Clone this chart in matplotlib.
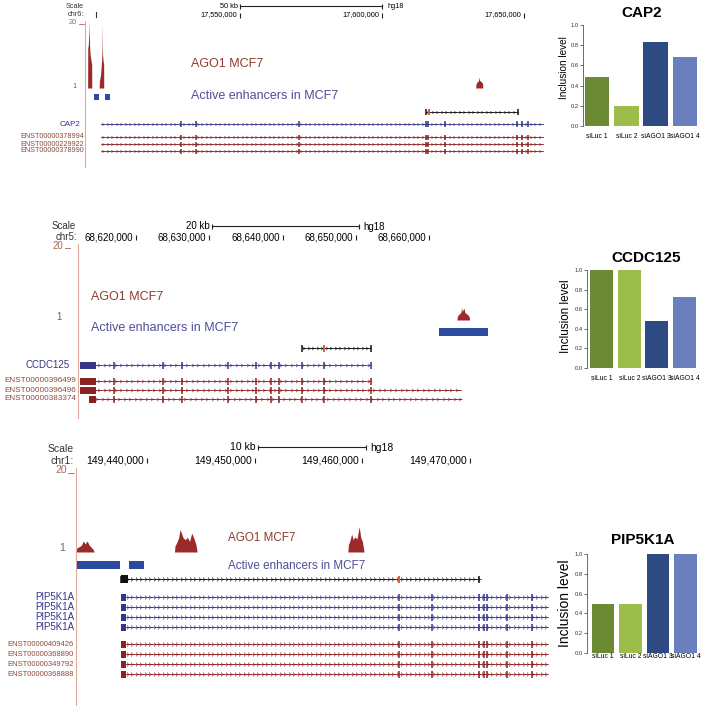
"""
AGO1 binding / enhancer tracks next to inclusion-level barplots (CAP2, CCDC125, PIP5K1A)
"""

import matplotlib
matplotlib.use('Agg')
import matplotlib.pyplot as plt
from matplotlib.patches import Rectangle
import numpy as np

plt.rcParams['font.family'] = ['Liberation Sans', 'DejaVu Sans']

W, H = 712, 706

# ---- barplot data ----
conditions = ['siLuc 1', 'siLuc 2', 'siAGO1 3', 'siAGO1 4']
cap2_inclusion = [0.49, 0.20, 0.83, 0.68]
ccdc125_inclusion = [1.0, 1.0, 0.48, 0.72]
pip5k1a_inclusion = [0.50, 0.50, 1.0, 1.0]
bar_colors = ['#6b8a33', '#9cbd4a', '#2e4a82', '#6a7fbd']
inclusion_ticks = [0.0, 0.2, 0.4, 0.6, 0.8, 1.0]

# ---- CAP2 browser view (chr6, hg18) ----
cap2_view = (17495423, 17657394)
cap2_ticks = [17550000, 17600000, 17650000]
cap2_scalebar = (17550000, 17600000)
cap2_ago1_pos = [17496350, 17496400, 17496600, 17496850, 17496940, 17497030, 17497200, 17497600, 17497780, 17497800,
                 17500400, 17500500, 17500900, 17501250, 17501450, 17501520, 17501600, 17501800, 17502000, 17502020,
                 17633000, 17633100, 17633500, 17634000, 17634200, 17634350, 17634900, 17635400, 17635500]
cap2_ago1_val = [0, 12, 13, 17, 20, 13, 10, 8, 7, 0,
                 0, 2, 4, 8, 12, 19.5, 10, 8, 7, 0,
                 0, 1.2, 1.8, 2.2, 3.3, 2.3, 1.9, 1.4, 0]
cap2_enhancers = [(17498592, 17500352), (17502465, 17504225)]
cap2_bound_region = (17615492, 17647887)
cap2_bound_mark = 17616550
cap2_tx_span = (17501056, 17656690)
cap2_exons = [17529226, 17534507, 17570774, 17615492, 17616196, 17622183, 17647535, 17649295, 17651408]
cap2_ensembl = ['ENST00000378994', 'ENST00000229922', 'ENST00000378990']

# ---- CCDC125 browser view (chr5, hg18) ----
ccdc125_view = (68612082, 68675836)
ccdc125_ticks = [68620000, 68630000, 68640000, 68650000, 68660000]
ccdc125_scalebar = (68630400, 68650400)
ccdc125_ago1_pos = [68663800, 68663870, 68664100, 68664350, 68664450, 68664550, 68664780, 68664900, 68665300,
                    68665500, 68665520]
ccdc125_ago1_val = [0, 1.0, 1.6, 2.0, 3.4, 2.3, 3.2, 2.0, 1.4, 0.8, 0]
ccdc125_enhancers = [(68661366, 68668055)]
ccdc125_bound_region = (68642662, 68652082)
ccdc125_bound_mark = 68645666
ccdc125_tx_span = (68612355, 68652082)
ccdc125_utr = (68612355, 68614539)
ccdc125_exons = [68616997, 68623686, 68626280, 68632560, 68636382, 68638430, 68639522, 68642662, 68645666, 68652082]
ccdc125_ensembl = ['ENST00000396499', 'ENST00000396496', 'ENST00000383374']
ccdc125_ensembl_spans = [(68612355, 68652082), (68612355, 68664369), (68613584, 68664369)]

# ---- PIP5K1A browser view (chr1, hg18) ----
pip5k1a_view = (149433408, 149477419)
pip5k1a_ticks = [149440000, 149450000, 149460000, 149470000]
pip5k1a_scalebar = (149450300, 149460300)
pip5k1a_ago1_pos = [149433450, 149433480, 149433700, 149433900, 149434080, 149434250, 149434450, 149434600,
                    149434800, 149435000, 149435100,
                    149442550, 149442600, 149442800, 149442950, 149443060, 149443200, 149443350, 149443550,
                    149443750, 149443950, 149444150, 149444350, 149444550, 149444650,
                    149458650, 149458700, 149458850, 149459000, 149459150, 149459300, 149459500, 149459700,
                    149459850, 149460000, 149460150]
pip5k1a_ago1_val = [0, 1.0, 1.3, 1.6, 2.7, 2.0, 2.7, 1.8, 1.2, 0.6, 0,
                    0, 1.5, 2.5, 3.6, 5.5, 4.6, 3.5, 3.0, 3.6, 2.6, 4.6, 3.4, 1.8, 0,
                    0, 1.8, 2.8, 4.4, 3.0, 3.7, 3.2, 6.2, 3.5, 2.6, 0]
pip5k1a_enhancers = [(149433500, 149437493), (149438329, 149439721)]
pip5k1a_bound_region = (149437586, 149470826)
pip5k1a_bound_mark = 149463398
pip5k1a_tx_span = (149437586, 149477140)
pip5k1a_utr = (149437586, 149438050)
pip5k1a_exons = [149463398, 149466462, 149470826, 149471291, 149471569, 149473426, 149475747]
pip5k1a_refseq = ['PIP5K1A', 'PIP5K1A', 'PIP5K1A', 'PIP5K1A']
pip5k1a_ensembl = ['ENST00000409426', 'ENST00000368890', 'ENST00000349792', 'ENST00000368888']

SIGNAL = '#9b2a2a'
ENH = '#2b4b9e'
BLUE_TX = '#35358a'
RED_TX = '#8b2222'
LABEL_RED = '#8b4a3a'
AGO_TEXT = '#8e3b2c'
ENH_TEXT = '#4d4d9a'
BORDER = '#e2a898'

fig = plt.figure(figsize=(W / 100, H / 100), dpi=100)


def px_axes(x0, y0, x1, y1):
    return fig.add_axes([x0 / W, 1 - y1 / H, (x1 - x0) / W, (y1 - y0) / H])


over = px_axes(0, 0, W, H)
over.set_xlim(0, W)
over.set_ylim(H, 0)
over.axis('off')


def panel_axes(x0, y0, x1, y1, view):
    ax = px_axes(x0, y0, x1, y1)
    ax.set_xlim(view)
    ax.set_ylim(y1, y0)
    ax.axis('off')
    return ax, (view[1] - view[0]) / (x1 - x0)


def draw_header(ax, bpp, y_bar, y_ticks, ticks, scalebar, scale_text, fs):
    ax.plot(scalebar, [y_bar, y_bar], color='#222222', lw=0.8, clip_on=False)
    ax.vlines(scalebar, y_bar - 2.5, y_bar + 2.5, color='#222222', lw=0.8, clip_on=False)
    ax.text(scalebar[0] - 2 * bpp, y_bar, scale_text, ha='right', va='center', fontsize=fs, clip_on=False)
    ax.text(scalebar[1] + 5 * bpp, y_bar + 1, 'hg18', ha='left', va='center', fontsize=fs, clip_on=False)
    for t in ticks:
        ax.vlines(t, y_ticks - 2.5, y_ticks + 2.5, color='#222222', lw=0.8, clip_on=False)
        ax.text(t - 3 * bpp, y_ticks, f'{t:,}', ha='right', va='center', fontsize=fs, clip_on=False)


def draw_transcript(ax, bpp, y, span, exons, color, half=3, utr=None, ms=2.5, step=4.5):
    ax.plot(span, [y, y], color=color, lw=0.6)
    xs = np.arange(span[0] + step * bpp / 2, span[1], step * bpp)
    ax.plot(xs, np.full(len(xs), y), ls='none', marker='4', ms=ms, mew=0.5, color=color)
    ex = [e for e in exons if span[0] <= e <= span[1] + bpp]
    ax.vlines(ex, y - half, y + half, color=color, lw=1.1)
    if utr is not None:
        ax.add_patch(Rectangle((utr[0], y - half), utr[1] - utr[0], 2 * half, color=color, lw=0))


def draw_signal(x0, y0, x1, y1, view, pos, val):
    ax = px_axes(x0, y0, x1, y1)
    ax.set_xlim(view)
    ax.set_ylim(0, 20)
    ax.axis('off')
    ax.fill_between(pos, 0, val, color=SIGNAL, lw=0)


def draw_enhancers(ax, blocks, y0, y1):
    for s, e in blocks:
        ax.add_patch(Rectangle((s, y0), e - s, y1 - y0, color=ENH, lw=0))


def draw_bound(ax, bpp, y, region, mark, half=2.5, ms=2.5):
    draw_transcript(ax, bpp, y, region, [region[0], region[1]], '#111111', half=half, ms=ms)
    ax.vlines(mark, y - half, y + half, color='#d0603a', lw=1.4)


# =============== panel 1: CAP2 ===============
ax1, bpp1 = panel_axes(85, 0, 545, 170, cap2_view)
draw_header(ax1, bpp1, 6, 15, cap2_ticks, cap2_scalebar, '50 kb', 5.3)
draw_signal(85, 21, 545, 88, cap2_view, cap2_ago1_pos, cap2_ago1_val)
draw_enhancers(ax1, cap2_enhancers, 94, 100)
draw_bound(ax1, bpp1, 112, cap2_bound_region, cap2_bound_mark, half=3, ms=2.5)
draw_transcript(ax1, bpp1, 124, cap2_tx_span, cap2_exons, BLUE_TX, half=3)
for i, name in enumerate(cap2_ensembl):
    y = 137 + 7 * i
    draw_transcript(ax1, bpp1, y, cap2_tx_span, cap2_exons, RED_TX, half=2.5)
    over.text(84, y, name, ha='right', va='center', fontsize=5.2, color=LABEL_RED)
over.text(84, 7, 'Scale', ha='right', va='center', fontsize=5.3, color='#333333')
over.text(84, 14, 'chr6:', ha='right', va='center', fontsize=5.3, color='#333333')
over.plot([96, 96], [12, 17], color='#333333', lw=0.8)
over.text(77, 22, '20', ha='right', va='center', fontsize=5.3, color='#a06a55')
over.plot([79, 84], [24, 24], color='#a06a55', lw=0.6)
over.text(77, 86, '1', ha='right', va='center', fontsize=5.3, color='#666666')
over.text(81, 124, 'CAP2', ha='right', va='center', fontsize=5.8, color=BLUE_TX)
over.text(191, 64, 'AGO1 MCF7', ha='left', va='center', fontsize=9, color=AGO_TEXT)
over.text(191, 96, 'Active enhancers in MCF7', ha='left', va='center', fontsize=9, color=ENH_TEXT)
over.plot([85, 85], [21, 167], color=BORDER, lw=0.8)

# =============== panel 2: CCDC125 ===============
ax2, bpp2 = panel_axes(78, 220, 545, 420, ccdc125_view)
draw_header(ax2, bpp2, 226, 237, ccdc125_ticks, ccdc125_scalebar, '20 kb', 7)
draw_signal(78, 246, 545, 320, ccdc125_view, ccdc125_ago1_pos, ccdc125_ago1_val)
draw_enhancers(ax2, ccdc125_enhancers, 328, 336)
draw_bound(ax2, bpp2, 348, ccdc125_bound_region, ccdc125_bound_mark, half=3.5, ms=3)
draw_transcript(ax2, bpp2, 365, ccdc125_tx_span, ccdc125_exons, BLUE_TX, half=3.5, utr=ccdc125_utr, ms=3,
                step=5.5)
for i, (name, span) in enumerate(zip(ccdc125_ensembl, ccdc125_ensembl_spans)):
    y = 381 + 9 * i
    draw_transcript(ax2, bpp2, y, span, ccdc125_exons, RED_TX, half=3.5, utr=(span[0], ccdc125_utr[1]), ms=3,
                    step=5.5)
    over.text(76, y, name, ha='right', va='center', fontsize=5.9, color=LABEL_RED)
over.text(76, 226, 'Scale', ha='right', va='center', fontsize=7, color='#333333')
over.text(77, 237, 'chr5:', ha='right', va='center', fontsize=7, color='#333333')
over.text(63, 246, '20', ha='right', va='center', fontsize=7, color='#a06a55')
over.plot([65, 70], [248, 248], color='#a06a55', lw=0.6)
over.text(62, 317, '1', ha='right', va='center', fontsize=7, color='#666666')
over.text(70, 365, 'CCDC125', ha='right', va='center', fontsize=7, color=BLUE_TX)
over.text(91, 297, 'AGO1 MCF7', ha='left', va='center', fontsize=9, color=AGO_TEXT)
over.text(91, 328, 'Active enhancers in MCF7', ha='left', va='center', fontsize=9, color=ENH_TEXT)
over.plot([78, 78], [244, 418], color=BORDER, lw=0.8)

# =============== panel 3: PIP5K1A ===============
ax3, bpp3 = panel_axes(76, 440, 550, 706, pip5k1a_view)
draw_header(ax3, bpp3, 447, 460, pip5k1a_ticks, pip5k1a_scalebar, '10 kb', 7.5)
draw_signal(76, 470, 550, 552, pip5k1a_view, pip5k1a_ago1_pos, pip5k1a_ago1_val)
draw_enhancers(ax3, pip5k1a_enhancers, 561, 569)
draw_bound(ax3, bpp3, 579, pip5k1a_bound_region, pip5k1a_bound_mark, half=3.5, ms=3.5)
ax3.add_patch(Rectangle((pip5k1a_utr[0], 575), pip5k1a_utr[1] - pip5k1a_utr[0] + 2 * bpp3, 8, color='#111111',
                        lw=0))
for i, name in enumerate(pip5k1a_refseq):
    y = 597 + 10 * i
    draw_transcript(ax3, bpp3, y, pip5k1a_tx_span, pip5k1a_exons, BLUE_TX, half=3.5, utr=pip5k1a_utr, ms=3.5)
    over.text(74, y, name, ha='right', va='center', fontsize=7, color=BLUE_TX)
for i, name in enumerate(pip5k1a_ensembl):
    y = 644 + 10 * i
    draw_transcript(ax3, bpp3, y, pip5k1a_tx_span, pip5k1a_exons, RED_TX, half=3.5, utr=pip5k1a_utr, ms=3.5)
    over.text(74, y, name, ha='right', va='center', fontsize=5.5, color=LABEL_RED)
over.text(74, 449, 'Scale', ha='right', va='center', fontsize=7.5, color='#333333')
over.text(74, 461, 'chr1:', ha='right', va='center', fontsize=7.5, color='#333333')
over.text(67, 470, '20', ha='right', va='center', fontsize=7.5, color='#a06a55')
over.plot([68, 74], [473, 473], color='#a06a55', lw=0.6)
over.text(65, 548, '1', ha='right', va='center', fontsize=7.5, color='#666666')
over.text(228, 538, 'AGO1 MCF7', ha='left', va='center', fontsize=8.4, color=AGO_TEXT)
over.text(228, 566, 'Active enhancers in MCF7', ha='left', va='center', fontsize=8.4, color=ENH_TEXT)
over.plot([76, 76], [468, 706], color=BORDER, lw=0.8)


# =============== inclusion level barplots ===============
def draw_bars(x0, y1top, x1, y0bottom, xlim, values, title, title_xy, ylab_xy, ylab_fs, label_y):
    ax = px_axes(x0, y1top, x1, y0bottom)
    centers = 0.7 + 1.2 * np.arange(len(values))
    ax.bar(centers, values, width=1.0, color=bar_colors)
    ax.set_xlim(xlim)
    ax.set_ylim(0, 1)
    for s in ['top', 'right', 'bottom']:
        ax.spines[s].set_visible(False)
    ax.spines['left'].set_linewidth(0.5)
    ax.spines['left'].set_color('#333333')
    ax.set_yticks(inclusion_ticks, [f'{t:.1f}' for t in inclusion_ticks])
    ax.tick_params(axis='y', labelsize=4.2, length=2, width=0.5, pad=1.2, colors='#333333')
    pad = (label_y - y0bottom - 3.5) * 0.72
    ax.set_xticks(centers, conditions)
    ax.tick_params(axis='x', labelsize=4.9, length=0, pad=pad)
    over.text(title_xy[0], title_xy[1], title, ha='center', va='center', fontsize=11, weight='bold')
    over.text(ylab_xy[0], ylab_xy[1], 'Inclusion level', ha='center', va='center', rotation=90, fontsize=ylab_fs)
    return ax


draw_bars(583, 25, 699, 126, (0.12, 4.88), cap2_inclusion, 'CAP2', (642, 13), (564, 68), 7.2, 137)
draw_bars(587, 270, 698, 368, (0.05, 4.89), ccdc125_inclusion, 'CCDC125', (646, 258), (566, 316), 8.4, 378)
draw_bars(587, 554, 699, 653, (0.0, 4.89), pip5k1a_inclusion, 'PIP5K1A', (643, 540), (565, 603), 10, 657)

plt.savefig('out.png', dpi=100, facecolor='white')
plt.close()
